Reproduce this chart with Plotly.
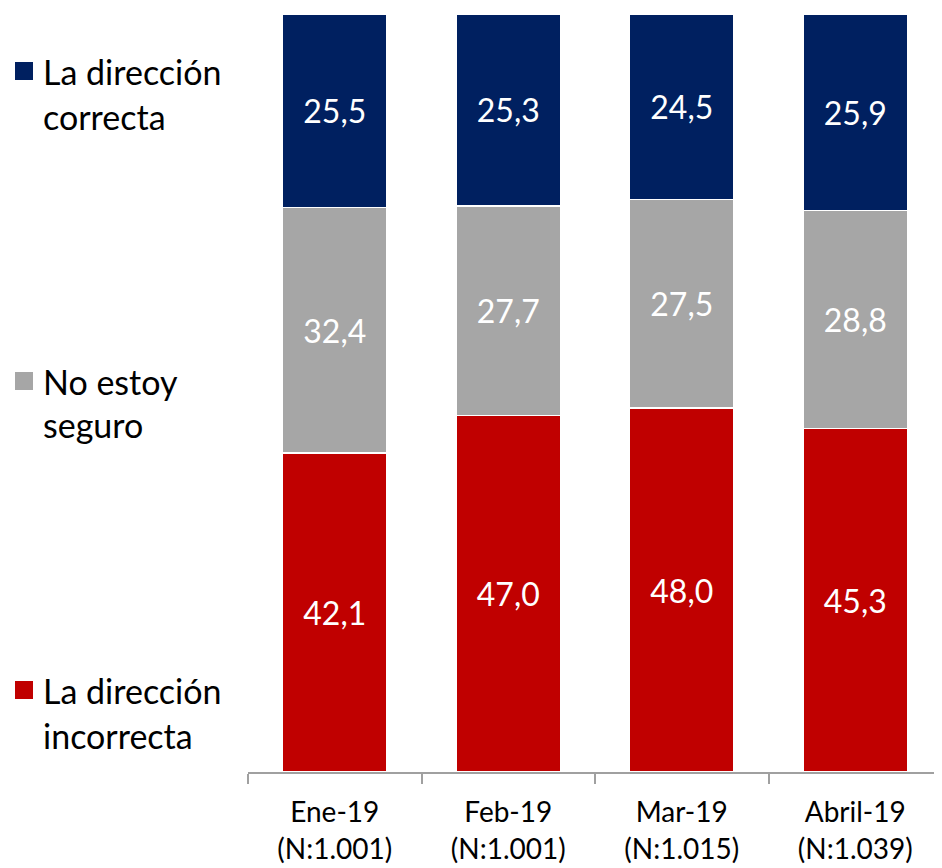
import plotly.graph_objects as go

categories = ['Ene-19<br>(N:1.001)', 'Feb-19<br>(N:1.001)',
              'Mar-19<br>(N:1.015)', 'Abril-19<br>(N:1.039)']
incorrecta = [42.1, 47.0, 48.0, 45.3]
no_seguro = [32.4, 27.7, 27.5, 28.8]
correcta = [25.5, 25.3, 24.5, 25.9]

series_names = ['La dirección incorrecta', 'No estoy seguro', 'La dirección correcta']
legend_lines = [['La dirección', 'incorrecta'], ['No estoy', 'seguro'], ['La dirección', 'correcta']]
colors = ['#C00000', '#A6A6A6', '#002060']

FONT = 'Lato, Carlito, Calibri, sans-serif'
# the page body has an 8px margin, so the figure is drawn 8px in from the top-left
OFF = 8
W, H = 942 - OFF, 868 - OFF
L, R, T, B = 248 - OFF, 0, 14 - OFF, 96
plot_h = H - T - B
plot_w = W - L - R


def py(page_y):
    # convert a page pixel row to paper y
    return (H - B - (page_y - OFF)) / plot_h


def px(page_x):
    return (page_x - OFF - L) / plot_w


def fmt(v):
    return f'{v:.1f}'.replace('.', ',')


fig = go.Figure()
for name, vals, col in zip(series_names, [incorrecta, no_seguro, correcta], colors):
    fig.add_trace(go.Bar(
        x=categories,
        y=vals,
        name=name,
        marker=dict(color=col, line=dict(color='white', width=1.5)),
        text=[fmt(v) for v in vals],
        textposition='inside',
        insidetextanchor='middle',
        textangle=0,
        constraintext='none',
        textfont=dict(family=FONT, size=32, color='white'),
        hoverinfo='skip',
    ))

annotations = []
shapes = []
# legend rows: page pixel centres of both lines of each entry
legend_rows = [(690, 735), (381, 425), (71, 116)]
for (y1, y2), lines, col in zip(legend_rows, legend_lines, colors):
    for yy, txt in zip((y1, y2), lines):
        annotations.append(dict(
            xref='paper', yref='paper', x=px(41), y=py(yy),
            xanchor='left', yanchor='middle', showarrow=False,
            text=txt, font=dict(family=FONT, size=34, color='black'),
        ))
    shapes.append(dict(
        type='rect', xref='paper', yref='paper',
        x0=px(15), x1=px(33), y0=py(y1 - 9), y1=py(y1 + 9),
        fillcolor=col, line=dict(width=0),
    ))

fig.update_layout(
    barmode='stack',
    bargap=0.4,
    width=W, height=H,
    margin=dict(l=L, r=R, t=T, b=B, pad=0, autoexpand=False),
    paper_bgcolor='white',
    plot_bgcolor='white',
    showlegend=False,
    annotations=annotations,
    shapes=shapes,
    xaxis=dict(
        automargin=False,
        showline=True, linecolor='#A0A0A0', linewidth=1.5,
        ticks='outside', tickson='boundaries', ticklen=10,
        tickcolor='#A0A0A0', tickwidth=1.5,
        ticklabelstandoff=15,
        tickfont=dict(family=FONT, size=28, color='black'),
        showgrid=False,
    ),
    yaxis=dict(
        automargin=False,
        range=[0, 100], visible=False, showgrid=False, zeroline=False,
    ),
)

fig.write_html('out.html')
